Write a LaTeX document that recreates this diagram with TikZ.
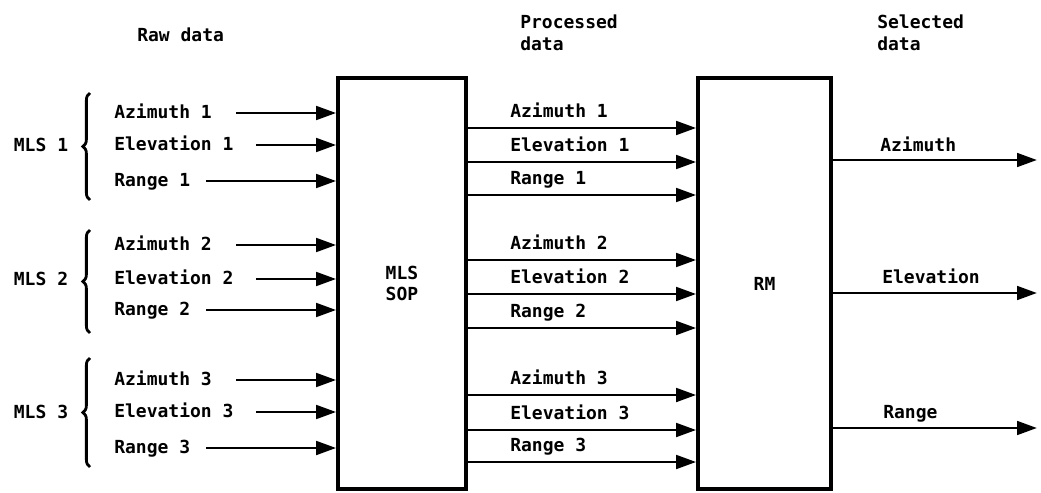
\documentclass[tikz,border=0pt]{standalone}
\usepackage{fontspec}
\setmainfont{DejaVu Sans Mono}
\usetikzlibrary{positioning,arrows.meta,decorations.pathreplacing}

\begin{document}
\begin{tikzpicture}[
    x=0.025cm, y=-0.025cm,
    font=\bfseries\fontsize{12.8}{15.5}\selectfont,
    block/.style={draw, rectangle, line width=2.6pt, align=center, inner sep=0pt},
    head/.style={anchor=west, align=left, inner sep=0pt},
    lbl/.style={anchor=west, inner sep=0pt, text height=0.73em, text depth=0pt},
    arrow/.style={-{Triangle[length=0.5cm, width=0.34cm]}, line width=2.1pt},
    grp/.style={decorate, decoration={brace, amplitude=0.18cm}, line width=2pt}
]
\useasboundingbox (0,0) rectangle (1041,493);

% Bloecke
\node[block, minimum width=3.2cm, minimum height=10.275cm] (sop) at (402,283.5) {MLS\\SOP};
\node[block, minimum width=3.325cm, minimum height=10.275cm] (rm) at (764.5,283.5) {RM};

% Ueberschriften
\node[head] (raw) at (137,35) {Raw data};
\node[head] (proc) at (520,33) {Processed\\data};
\node[head] (sel) at (877,33) {Selected\\data};

% Eingaenge (Rohdaten)
\foreach \i/\ya/\ye/\yr/\yt/\yb in {1/113/145/181/93/200, 2/245/279/310/230/333, 3/380/412/448/358/467} {
    \node (mls\i) at (41,\ye) {MLS \i};
    \draw[grp] (90,\yb) -- (90,\yt);
    \node[lbl] (az\i) at (114,\ya) {Azimuth \i};
    \node[lbl] (el\i) at (114,\ye) {Elevation \i};
    \node[lbl] (rg\i) at (114,\yr) {Range \i};
    \draw[arrow, shorten <=0.6cm] (az\i) -- (az\i -| sop.west);
    \draw[arrow, shorten <=0.55cm] (el\i) -- (el\i -| sop.west);
    \draw[arrow, shorten <=0.4cm] (rg\i) -- (rg\i -| sop.west);
}

% Verarbeitete Daten
\foreach \i/\ma/\me/\mr in {1/128/162/195, 2/260/294/328, 3/395/430/462} {
    \coordinate (paz\i) at (480,\ma);
    \coordinate (pel\i) at (480,\me);
    \coordinate (prg\i) at (480,\mr);
    \node[lbl] (taz\i) at (510,\ma-16) {Azimuth \i};
    \node[lbl] (tel\i) at (510,\me-16) {Elevation \i};
    \node[lbl] (trg\i) at (510,\mr-16) {Range \i};
    \draw[arrow] (sop.east |- paz\i) -- (rm.west |- paz\i);
    \draw[arrow] (sop.east |- pel\i) -- (rm.west |- pel\i);
    \draw[arrow] (sop.east |- prg\i) -- (rm.west |- prg\i);
}

% Ausgewaehlte Daten
\coordinate (oaz) at (1037,160);
\coordinate (oel) at (1037,293);
\coordinate (org) at (1037,428);
\node[lbl] (saz) at (880,146) {Azimuth};
\node[lbl] (sel2) at (882,278) {Elevation};
\node[lbl] (srg) at (883,413) {Range};
\draw[arrow] (rm.east |- oaz) -- (oaz);
\draw[arrow] (rm.east |- oel) -- (oel);
\draw[arrow] (rm.east |- org) -- (org);

\end{tikzpicture}
\end{document}
